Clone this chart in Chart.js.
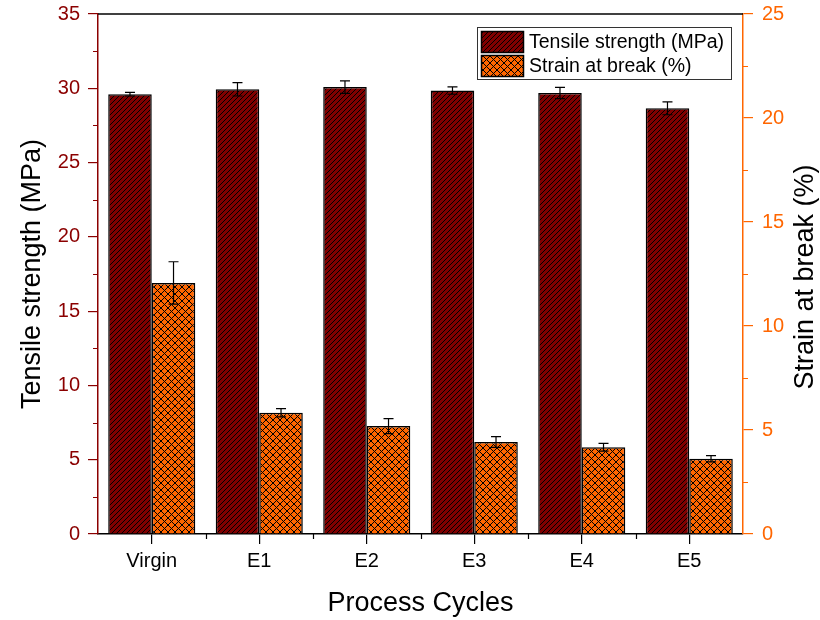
<!DOCTYPE html>
<html>
<head>
<meta charset="utf-8">
<script src="https://cdn.jsdelivr.net/npm/chart.js@4"></script>
<style>
  body { margin: 0; background: #fff; }
  #wrap { width: 820px; height: 620px; }
</style>
</head>
<body>
<div id="wrap"><canvas id="chart" width="820" height="620"></canvas></div>
<script>
var categories = ['Virgin', 'E1', 'E2', 'E3', 'E4', 'E5'];
var tensile = [29.6, 29.93, 30.08, 29.85, 29.68, 28.65];
var tensileErr = [0.12, 0.45, 0.42, 0.25, 0.38, 0.43];
var strain = [12.07, 5.83, 5.19, 4.42, 4.17, 3.62];
var strainErr = [1.02, 0.2, 0.36, 0.26, 0.19, 0.15];

var DARK_RED = '#800000';
var AXIS_RED = '#8B0000';
var ORANGE = '#FF6600';
var FONT = '"Liberation Sans", Arial, sans-serif';
var rightTitle = 'Strain at break (%)';

function hatch(bg, size, cross) {
  var c = document.createElement('canvas');
  c.width = size;
  c.height = size;
  var g = c.getContext('2d');
  g.fillStyle = bg;
  g.fillRect(0, 0, size, size);
  g.strokeStyle = '#000';
  g.lineWidth = 1;
  g.beginPath();
  // "/" lines
  g.moveTo(-1, size + 1); g.lineTo(size + 1, -1);
  g.moveTo(-1, 1); g.lineTo(1, -1);
  g.moveTo(size - 1, size + 1); g.lineTo(size + 1, size - 1);
  if (cross) {
    // "\" lines
    g.moveTo(-1, -1); g.lineTo(size + 1, size + 1);
    g.moveTo(size - 1, -1); g.lineTo(size + 1, 1);
    g.moveTo(-1, size - 1); g.lineTo(1, size + 1);
  }
  g.stroke();
  return document.getElementById('chart').getContext('2d').createPattern(c, 'repeat');
}

var tensileFill = hatch(DARK_RED, 5, false);
var strainFill = hatch(ORANGE, 7, true);

var extras = {
  id: 'extras',
  afterDatasetsDraw: function(chart) {
    var ctx = chart.ctx;
    var errs = [tensileErr, strainErr];
    ctx.save();
    ctx.strokeStyle = '#000';
    ctx.lineWidth = 1.2;
    for (var d = 0; d < 2; d++) {
      var meta = chart.getDatasetMeta(d);
      var sc = chart.scales[meta.yAxisID];
      var vals = chart.data.datasets[d].data;
      for (var i = 0; i < vals.length; i++) {
        var x = meta.data[i].x;
        var yTop = sc.getPixelForValue(vals[i] + errs[d][i]);
        var yBot = sc.getPixelForValue(vals[i] - errs[d][i]);
        ctx.beginPath();
        ctx.moveTo(x, yTop); ctx.lineTo(x, yBot);
        ctx.moveTo(x - 5, yTop); ctx.lineTo(x + 5, yTop);
        ctx.moveTo(x - 5, yBot); ctx.lineTo(x + 5, yBot);
        ctx.stroke();
      }
    }
    ctx.restore();
  },
  afterDraw: function(chart) {
    var ctx = chart.ctx;
    var a = chart.chartArea;
    var y = chart.scales.y, y2 = chart.scales.y2, x = chart.scales.x;
    ctx.save();
    // top frame line
    ctx.strokeStyle = '#000';
    ctx.lineWidth = 1.5;
    ctx.beginPath();
    ctx.moveTo(a.left, a.top); ctx.lineTo(a.right, a.top);
    ctx.stroke();
    // minor ticks
    ctx.lineWidth = 1.2;
    ctx.strokeStyle = AXIS_RED;
    ctx.beginPath();
    for (var v = 2.5; v < 35; v += 5) {
      var py = Math.round(y.getPixelForValue(v)) + 0.5;
      ctx.moveTo(a.left - 5, py); ctx.lineTo(a.left, py);
    }
    ctx.stroke();
    ctx.strokeStyle = ORANGE;
    ctx.beginPath();
    for (var w = 2.5; w < 25; w += 5) {
      var qy = Math.round(y2.getPixelForValue(w)) + 0.5;
      ctx.moveTo(a.right, qy); ctx.lineTo(a.right + 5, qy);
    }
    ctx.stroke();
    ctx.strokeStyle = '#000';
    ctx.beginPath();
    for (var k = 1; k < categories.length; k++) {
      var px = Math.round(x.getPixelForValue(k - 0.5)) + 0.5;
      ctx.moveTo(px, a.bottom); ctx.lineTo(px, a.bottom + 5);
    }
    ctx.stroke();

    // right axis title, reading bottom to top like the left one
    ctx.save();
    ctx.translate(806, (a.top + a.bottom) / 2 + 3);
    ctx.rotate(-Math.PI / 2);
    ctx.font = '27px ' + FONT;
    ctx.fillStyle = '#000';
    ctx.textAlign = 'center';
    ctx.textBaseline = 'middle';
    ctx.fillText(rightTitle, 0, 0);
    ctx.restore();

    // legend box
    var lx = 477, ly = 27, lw = 254, lh = 52;
    ctx.fillStyle = '#fff';
    ctx.fillRect(lx, ly, lw, lh);
    ctx.strokeStyle = '#333';
    ctx.lineWidth = 1;
    ctx.strokeRect(lx + 0.5, ly + 0.5, lw, lh);
    var labels = ['Tensile strength (MPa)', 'Strain at break (%)'];
    var fills = [tensileFill, strainFill];
    ctx.font = '19.5px ' + FONT;
    ctx.textBaseline = 'middle';
    ctx.textAlign = 'left';
    for (var r = 0; r < 2; r++) {
      var sy = 31 + r * 24;
      ctx.fillStyle = fills[r];
      ctx.fillRect(481, sy, 43, 22);
      ctx.strokeStyle = '#000';
      ctx.lineWidth = 1.5;
      ctx.strokeRect(481.5, sy + 0.5, 42, 21);
      ctx.fillStyle = '#000';
      ctx.fillText(labels[r], 529, sy + 12);
    }
    ctx.restore();
  }
};

new Chart(document.getElementById('chart'), {
  type: 'bar',
  data: {
    labels: categories,
    datasets: [
      {
        label: 'Tensile strength (MPa)',
        data: tensile,
        yAxisID: 'y',
        backgroundColor: tensileFill,
        borderColor: '#000',
        borderWidth: 1.5,
        categoryPercentage: 0.81,
        barPercentage: 1.0
      },
      {
        label: 'Strain at break (%)',
        data: strain,
        yAxisID: 'y2',
        backgroundColor: strainFill,
        borderColor: '#000',
        borderWidth: 1.5,
        categoryPercentage: 0.81,
        barPercentage: 1.0
      }
    ]
  },
  options: {
    responsive: false,
    animation: false,
    layout: { padding: { top: 14, left: 0, right: 0, bottom: 0 } },
    plugins: { legend: { display: false }, tooltip: { enabled: false } },
    scales: {
      x: {
        afterFit: function(s) { s.height = 86; },
        grid: { display: true, drawOnChartArea: false, offset: false, tickLength: 10, color: '#000', lineWidth: 1.2 },
        border: { color: '#000', width: 1.5 },
        ticks: { color: '#000', padding: 5, font: { family: FONT, size: 20 } },
        title: { display: true, text: 'Process Cycles', color: '#000', padding: { top: 0, bottom: 3 },
                 font: { family: FONT, size: 27, lineHeight: 1 } }
      },
      y: {
        position: 'left',
        min: 0, max: 35,
        afterFit: function(s) { s.width = 98; s.paddingTop = 0; s.paddingBottom = 0; },
        grid: { display: true, drawOnChartArea: false, tickLength: 10, color: AXIS_RED, lineWidth: 1.2 },
        border: { color: AXIS_RED, width: 1.5 },
        ticks: { stepSize: 5, color: AXIS_RED, padding: 8, font: { family: FONT, size: 20 } },
        title: { display: true, text: 'Tensile strength (MPa)', color: '#000', padding: { top: 19, bottom: 0 },
                 font: { family: FONT, size: 27, lineHeight: 1 } }
      },
      y2: {
        position: 'right',
        min: 0, max: 25,
        afterFit: function(s) { s.width = 77; s.paddingTop = 0; s.paddingBottom = 0; },
        grid: { display: true, drawOnChartArea: false, tickLength: 10, color: ORANGE, lineWidth: 1.2 },
        border: { color: ORANGE, width: 1.5 },
        ticks: { stepSize: 5, color: ORANGE, padding: 9, font: { family: FONT, size: 20 } },
        title: { display: false }
      }
    }
  },
  plugins: [extras]
});
</script>
</body>
</html>
